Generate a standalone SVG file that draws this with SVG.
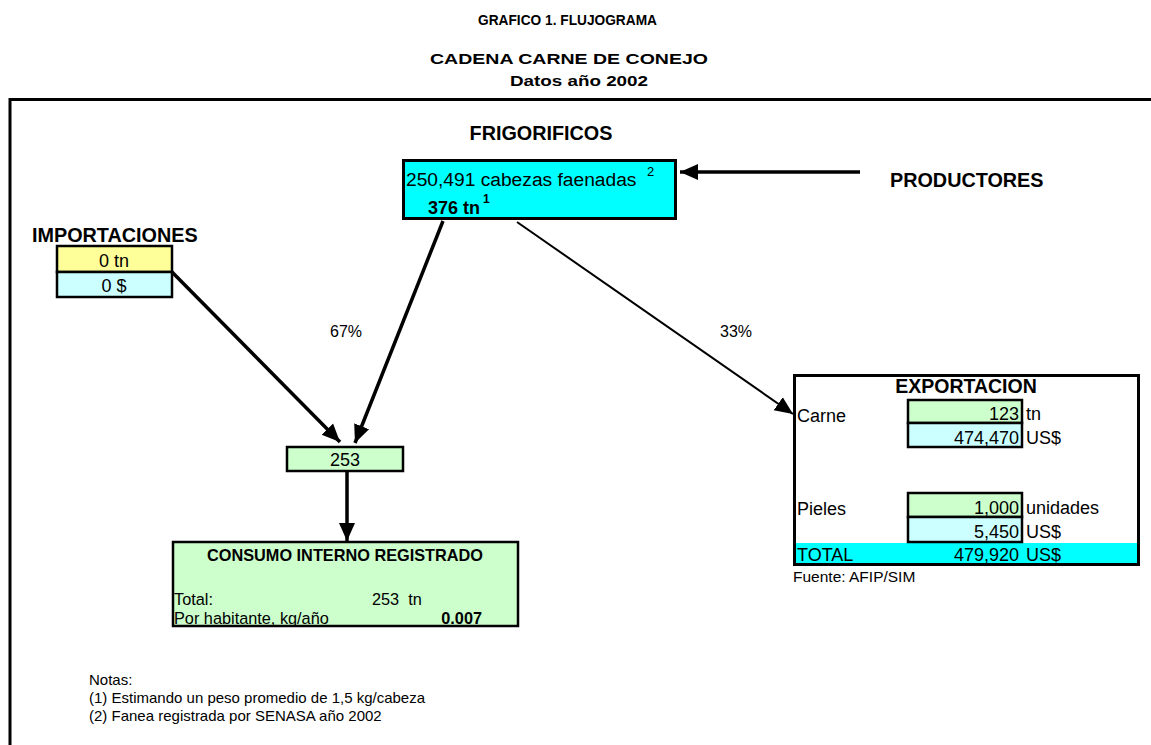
<svg xmlns="http://www.w3.org/2000/svg" width="1151" height="745" viewBox="0 0 1151 745">
<style>
text{font-family:"Liberation Sans",Arial,sans-serif;fill:#000}
.b{font-weight:bold}
.t{font-size:15px;font-weight:bold}
.h{font-size:19.8px;font-weight:bold}
.r{font-size:18px}
.s{font-size:15px}
.c{font-size:16.3px}
.cell{stroke:#000;stroke-width:2.5}
.ln{stroke:#000;fill:none}
</style>
<defs>
<marker id="ah" markerUnits="userSpaceOnUse" markerWidth="20" markerHeight="20" viewBox="0 0 20 20" refX="18" refY="10" orient="auto">
<path d="M0,2 L18,10 L0,18 Z" fill="#000"/>
</marker>
</defs>
<rect width="1151" height="745" fill="#fff"/>
<g id="titles">
<text class="t" x="478" y="25" textLength="179" lengthAdjust="spacingAndGlyphs" style="font-size:14.5px">GRAFICO 1. FLUJOGRAMA</text>
<text class="t" x="430" y="64" textLength="278" lengthAdjust="spacingAndGlyphs">CADENA CARNE DE CONEJO</text>
<text class="t" x="510" y="86" textLength="138" lengthAdjust="spacingAndGlyphs">Datos año 2002</text>
</g>
<g id="frame">
<path class="ln" stroke-width="3" d="M10,745 V99.5 H1151"/>
</g>
<g id="connectors">
<line class="ln" stroke-width="3.5" x1="860" y1="172" x2="680" y2="172" marker-end="url(#ah)"/>
<line class="ln" stroke-width="3.5" x1="172" y1="272" x2="340" y2="442" marker-end="url(#ah)"/>
<line class="ln" stroke-width="3.5" x1="443" y1="221" x2="355" y2="443" marker-end="url(#ah)"/>
<line class="ln" stroke-width="2" x1="517" y1="222" x2="793" y2="414" marker-end="url(#ah)"/>
<line class="ln" stroke-width="3.5" x1="347" y1="472" x2="347" y2="541" marker-end="url(#ah)"/>
<text x="330" y="337" style="font-size:16px">67%</text>
<text x="720" y="337" style="font-size:16px">33%</text>
</g>
<g id="frigorificos">
<text class="h" x="541" y="140" text-anchor="middle">FRIGORIFICOS</text>
<rect x="403.5" y="160.5" width="272" height="58" fill="#00FFFF" stroke="#000" stroke-width="3"/>
<text x="406" y="186" style="font-size:19.2px">250,491 cabezas faenadas</text>
<text x="647" y="176" style="font-size:13px">2</text>
<text class="b" x="428" y="214" style="font-size:18px">376 tn</text>
<text class="b" x="483" y="203" style="font-size:12px">1</text>
</g>
<g id="productores">
<text class="h" x="890" y="187">PRODUCTORES</text>
</g>
<g id="importaciones">
<text class="h" x="32" y="242">IMPORTACIONES</text>
<rect x="57" y="246" width="115" height="26" fill="#FFFF99" class="cell"/>
<rect x="57" y="272" width="115" height="25" fill="#CCFFFF" class="cell"/>
<text class="r" x="114" y="267" text-anchor="middle">0 tn</text>
<text class="r" x="114" y="292" text-anchor="middle">0 $</text>
</g>
<g id="nodo253">
<rect x="287" y="447" width="116" height="24" fill="#CCFFCC" class="cell"/>
<text class="r" x="345" y="466" text-anchor="middle">253</text>
</g>
<g id="consumo">
<rect x="173" y="542" width="345" height="84" fill="#CCFFCC" class="cell"/>
<text class="b c" x="345" y="561" text-anchor="middle">CONSUMO INTERNO REGISTRADO</text>
<text class="c" x="174" y="605">Total:</text>
<text class="c" x="372" y="605" xml:space="preserve">253  tn</text>
<text class="c" x="174" y="624">Por habitante, kg/año</text>
<text class="b c" x="482" y="624" text-anchor="end">0.007</text>
</g>
<g id="exportacion">
<rect x="794.5" y="375.5" width="344" height="189" fill="#fff" stroke="#000" stroke-width="3"/>
<rect x="796" y="543" width="341" height="20" fill="#00FFFF"/>
<text class="h" x="966" y="393" text-anchor="middle" style="font-size:19.5px">EXPORTACION</text>
<text class="r" x="797" y="422">Carne</text>
<rect x="908" y="400" width="114" height="23" fill="#CCFFCC" class="cell"/>
<rect x="908" y="423" width="114" height="24" fill="#CCFFFF" class="cell"/>
<text class="r" x="1019" y="420" text-anchor="end">123</text>
<text class="r" x="1026" y="420">tn</text>
<text class="r" x="1019" y="444" text-anchor="end">474,470</text>
<text class="r" x="1026" y="444">US$</text>
<text class="r" x="797" y="515">Pieles</text>
<rect x="908" y="493" width="114" height="24" fill="#CCFFCC" class="cell"/>
<rect x="908" y="517" width="114" height="25" fill="#CCFFFF" class="cell"/>
<text class="r" x="1019" y="514" text-anchor="end">1,000</text>
<text class="r" x="1026" y="514">unidades</text>
<text class="r" x="1019" y="538" text-anchor="end">5,450</text>
<text class="r" x="1026" y="538">US$</text>
<text class="r" x="797" y="561">TOTAL</text>
<text class="r" x="1019" y="561" text-anchor="end">479,920</text>
<text class="r" x="1026" y="561">US$</text>
<text x="793" y="582" style="font-size:15.5px">Fuente: AFIP/SIM</text>
</g>
<g id="notas">
<text class="s" x="89" y="685">Notas:</text>
<text class="s" x="89" y="703">(1) Estimando un peso promedio de 1,5 kg/cabeza</text>
<text class="s" x="89" y="721">(2) Fanea registrada por SENASA año 2002</text>
</g>
</svg>
